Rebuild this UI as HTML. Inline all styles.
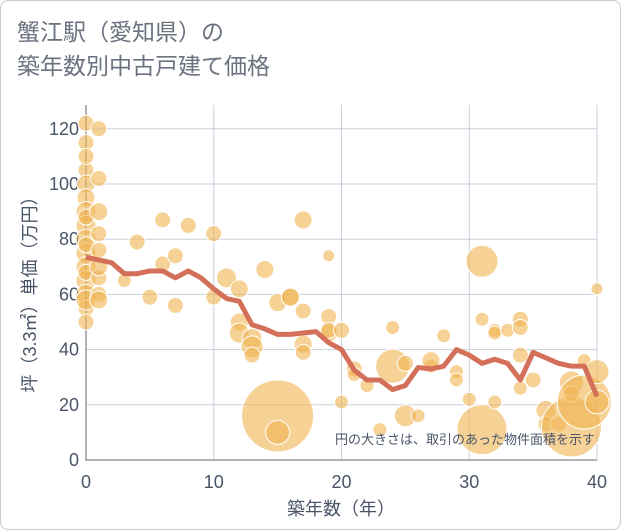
<!DOCTYPE html>
<html><head><meta charset="utf-8"><style>
body{margin:0;background:#fff;}
.wrap{width:619px;height:528px;border:1px solid #ccc;border-radius:8px;position:relative;overflow:hidden;font-family:"Liberation Sans","Noto Sans CJK JP",sans-serif;}
.title{position:absolute;left:16px;top:14px;font-size:23px;line-height:34px;color:#6b7280;}
</style></head><body>
<div class="wrap">
<div class="title">蟹江駅（愛知県）の<br>築年数別中古戸建て価格</div>
<svg id="chart" width="621" height="530" style="position:absolute;left:-1px;top:-1px"></svg>
</div>
<script>
const xTicks=[0,10,20,30,40];
const yTicks=[0,20,40,60,80,100,120];
const lineAges=[0,1,2,3,4,5,6,7,8,9,10,11,12,13,14,15,16,17,18,19,20,21,22,23,24,25,26,27,28,29,30,31,32,33,34,35,36,37,38,39,40];
const lineValues=[73.5,72.5,71.5,67.5,67.5,68.5,68.5,66,68.5,66,62,58.5,57.5,49,47.5,45.5,45.5,46,46.5,42.5,40,32.5,29,29,25.5,27,33.5,33,34,40,38,35,36.5,35,29,39,37,35,34,34,23];
const bubbleAges=[0,0,0,0,0,0,0,0,0,0,0,0,0,0,0,0,0,0,0,1,1,1,1,1,1,1,1,1,3,4,5,6,6,7,7,8,10,10,11,12,12,12,13,13,13,14,15,15,15,16,16,17,17,17,17,19,19,19,19,20,20,21,21,22,23,24,24,25,25,26,27,27,28,29,29,30,31,31,31,32,32,32,33,34,34,34,34,35,36,36,37,38,38,38,39,39,40,40,40];
const bubbleValues=[122,115,105,100,95,90,85,80,75,70,65,60,55,50,110,88,78,68,58,120,102,90,82,76,66,60,58,70,65,79,59,87,71,74,56,85,82,59,66,62,50,46,44,41,38,69,16,10,57,59,59,87,54,42,39,74,52,46,47,47,21,33,31,27,11,48,34,16,35,16,34,36,45,32,29,22,72,51,11,21,47,46,47,51,48,38,26,29,18,13,13,28,12,24,21,36,32,21,62];
const bubbleSizes=[8,8,8,9,9,10,10,10,10,10,10,10,8,8,8,8,8,8,10,8,8,9,8,8,8,8,9,9,7,8,8,8,8,8,8,8,8,8,10,9,9,10,10,11,8,9,36,12,9,9,9,9,8,9,8,6,8,9,8,8,7,8,7,7,7,7,17,11,8,7,7,9,7,7,7,7,16,7,25,7,7,7,7,8,8,8,7,8,10,8,8,12,30,8,27,7,12,12,6];
const NS="http://www.w3.org/2000/svg";
const svg=document.getElementById('chart');
const X0=86,X1=597,Y0=460,YT=105;
const xs=v=>X0+(v/40)*(X1-X0);
const ys=v=>Y0-v*2.76;
const TC='#4a5568';
function mk(t,a,p){const e=document.createElementNS(NS,t);for(const k in a)e.setAttribute(k,a[k]);(p||svg).appendChild(e);return e;}
xTicks.forEach(t=>{const l=mk('line',{x1:xs(t),x2:xs(t),y1:YT,y2:Y0,stroke:'#c8d0dc','stroke-width':1});

const tx=mk('text',{x:xs(t),y:488,'text-anchor':'middle','font-size':18,fill:TC});tx.textContent=t;
});
yTicks.forEach(t=>{const l=mk('line',{x1:X0,x2:X1,y1:ys(t),y2:ys(t),stroke:'#c8d0dc','stroke-width':1});

const tx=mk('text',{x:79,y:ys(t)+6,'text-anchor':'end','font-size':18,fill:TC});tx.textContent=t;
});
const ax=mk('path',{d:`M${X0},${YT}V${Y0}H${X1}`,stroke:'#999',fill:'none','stroke-width':1.5});

const g=mk('g',{});

bubbleAges.forEach((a,i)=>{const c=mk('circle',{cx:xs(a),cy:ys(bubbleValues[i]),r:bubbleSizes[i],fill:'rgba(240,180,80,0.6)',stroke:'#fff','stroke-width':1},g);
});
const pl=mk('polyline',{points:lineAges.map((a,i)=>xs(a)+','+ys(lineValues[i])).join(' '),fill:'none',stroke:'#d4705a','stroke-width':5,'stroke-linejoin':'round'});

const note=mk('text',{x:595,y:444,'text-anchor':'end','font-size':13,fill:TC});note.textContent='円の大きさは、取引のあった物件面積を示す';

const xt=mk('text',{x:341,y:515,'text-anchor':'middle','font-size':18,fill:TC});xt.textContent='築年数（年）';

const yt=mk('text',{x:0,y:0,'text-anchor':'middle','font-size':18,fill:TC,transform:'translate(36,290) rotate(-90)'});yt.textContent='坪（3.3㎡）単価（万円）';

</script>
</body></html>
